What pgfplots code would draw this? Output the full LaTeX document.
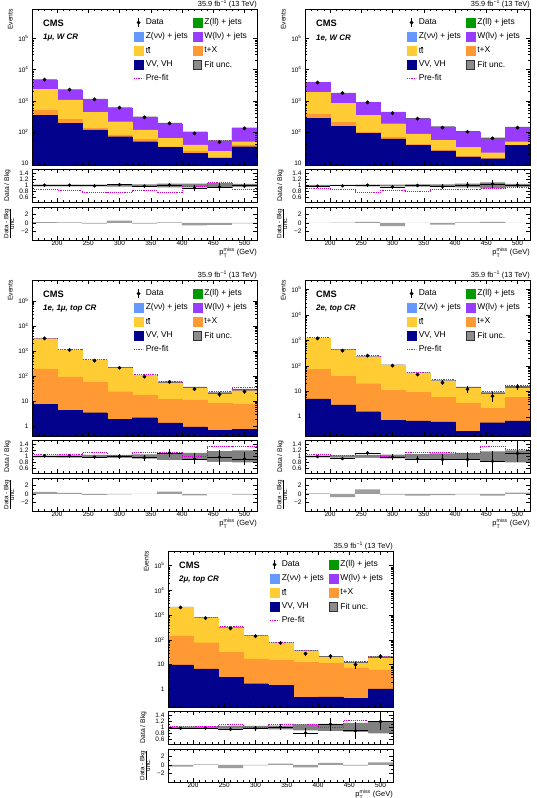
\documentclass[border=0pt]{standalone}
\usepackage{fontspec}
\setmainfont{Liberation Sans}
\usepackage{amsmath}
\usepackage{pgfplots}
\usepackage{pgfplotstable}
\pgfplotsset{compat=1.18}
\usetikzlibrary{calc}

\definecolor{cVV}{RGB}{2,2,140}
\definecolor{cTT}{RGB}{255,204,51}
\definecolor{cTX}{RGB}{255,153,51}
\definecolor{cW}{RGB}{153,60,255}
\definecolor{cZnn}{RGB}{102,153,255}
\definecolor{cZll}{RGB}{0,153,0}
\definecolor{cPre}{RGB}{210,0,210}

% lo = lower bin edge; tot, tt, tx, vv = upper edge of each stacked layer
% u = relative fit uncertainty, pre = pre-fit / post-fit, r = data / bkg, re = its error
\pgfplotstableread{
lo  tot  tt   tx   vv   data u    pre  r    re    pull
160 4700 2350 490  338  4747 0.03 0.87 1.01 0.015 0.2
200 2240 1070 256  190  2262 0.03 0.84 1.01 0.02  0.1
240 1120 428  132  117  1109 0.03 0.76 0.99 0.03  -0.2
280 590  215  81   71   608  0.04 0.76 1.03 0.04  0.55
320 300  117  59   49   294  0.04 0.82 0.98 0.05  -0.2
360 185  63   34   32   189  0.06 0.78 1.02 0.07  0.1
400 98   39   24   21   90   0.06 0.97 0.92 0.10  -0.6
440 50   24   16   14.5 47   0.08 1.09 0.95 0.14  -0.5
480 132  49   39   34   131  0.05 0.87 0.99 0.09  -0.1
520 132  49   39   34   131  0.05 0.87 0.99 0.09  -0.1
}\tabMuW

\pgfplotstableread{
lo  tot  tt   tx   vv   data u    pre  r    re    pull
160 3900 1850 370  280  3822 0.02 0.91 0.98 0.02  0.0
200 1770 820  205  152  1752 0.02 0.86 0.99 0.025 0.05
240 880  350  102  93   889  0.03 0.76 1.01 0.035 0.25
280 425  185  67   60   404  0.03 0.84 0.95 0.05  -0.8
320 267  88   41   37   267  0.04 0.81 1.00 0.06  0.0
360 145  54   27   25   139  0.04 0.87 0.96 0.08  -0.4
400 100  33   17   16   102  0.06 0.87 1.02 0.10  0.1
440 60   22   14.5 14   63   0.10 0.89 1.05 0.13  0.25
480 138  49   39   37   139  0.05 0.95 1.01 0.09  0.0
520 138  49   39   37   139  0.05 0.95 1.01 0.09  0.0
}\tabEW

\pgfplotstableread{
lo  tot  tt   tx   vv   data u    pre  r    re    pull
160 3100 3100 194  7.7  3162 0.03 1.06 1.02 0.02  0.5
200 1070 1070 92   4.4  1091 0.04 1.06 1.02 0.03  0.25
240 420  420  56   3.5  412  0.05 1.13 0.98 0.05  -0.25
280 214  214  24   1.9  214  0.05 1.04 1.00 0.07  -0.15
320 98   98   18   2.2  94   0.07 1.15 0.96 0.10  0.0
360 53   53   12   1.36 59   0.12 1.15 1.12 0.14  0.55
400 33   33   11.2 0.94 30   0.12 1.00 0.92 0.18  -0.35
440 19   19   8.2  0.69 18.6 0.18 1.33 0.98 0.25  0.0
480 26   26   7.7  0.76 24   0.20 1.33 0.92 0.22  -0.2
520 26   26   7.7  0.76 24   0.20 1.33 0.92 0.22  -0.2
}\tabEMuTop

\pgfplotstableread{
lo  tot  tt   tx   vv   data u    pre  r    re    pull
160 1200 1200 72   5.0  1200 0.03 1.06 1.00 0.03  0.1
200 425  425  39   2.9  395  0.04 1.03 0.93 0.05  -0.8
240 222  222  20   1.58 249  0.05 1.11 1.12 0.07  1.1
280 104  104  10.8 0.74 102  0.06 1.00 0.98 0.09  -0.2
320 50   50   9    0.69 45.5 0.08 1.15 0.91 0.12  -0.4
360 24.6 24.6 5.9  0.63 22   0.10 1.15 0.90 0.17  -0.3
400 13.4 13.4 3.4  0.27 12   0.12 1.09 0.90 0.25  -0.1
440 7.7  7.7  2.1  0.59 6.5  0.17 1.34 0.84 0.35  -0.4
480 13.4 13.4 5.7  0.69 14.7 0.20 1.24 1.10 0.30  0.3
520 13.4 13.4 5.7  0.69 14.7 0.20 1.24 1.10 0.30  0.3
}\tabEETop

\pgfplotstableread{
lo  tot  tt   tx   vv   data u    pre  r    re    pull
160 2100 2100 145  9.7  2040 0.03 1.02 0.97 0.03  -0.4
200 780  780  78   6.8  765  0.04 1.02 0.98 0.04  0.1
240 310  310  31   3.1  291  0.05 1.09 0.94 0.06  -0.8
280 145  145  17   1.7  141  0.05 1.01 0.97 0.08  -0.1
320 74   74   15.4 1.45 75   0.06 1.09 1.01 0.10  0.3
360 34   34   12.4 0.49 28   0.10 1.11 0.82 0.15  -0.6
400 19.6 19.6 11.3 0.50 22   0.12 1.00 1.11 0.22  0.5
440 11.3 11.3 7.4  0.44 10   0.15 1.23 0.89 0.28  -0.2
480 17.9 17.9 6.1  1.06 21.5 0.20 1.20 1.20 0.30  0.6
520 17.9 17.9 6.1  1.06 21.5 0.20 1.20 1.20 0.30  0.6
}\tabMuMuTop

\pgfplotsset{
  cmsbase/.style={
    scale only axis, width=225bp, axis on top,
    xmin=160, xmax=520,
    xtick={150,200,...,550}, minor x tick num=4,
    tick align=inside,
    major tick length=4bp, minor tick length=2bp,
    every tick/.append style={black, line width=0.4bp},
    axis line style={line width=0.6bp},
    tick label style={font=\fontsize{6.5}{7}\selectfont},
    label style={font=\fontsize{6.8}{8}\selectfont},
  },
}

\newcommand{\cmsbox}[1]{\addlegendimage{legend image code/.code={%
  \fill[#1] (0bp,-4.5bp) rectangle (9bp,4.5bp);}}}

\newcommand{\cmslegend}{%
  \addlegendimage{legend image code/.code={%
    \draw[black, line width=0.6bp] (4.5bp,-4.5bp) -- (4.5bp,4.5bp);
    \fill[black] (4.5bp,0bp) circle (1.7bp);}}
  \addlegendentry{Data}
  \cmsbox{cZll}\addlegendentry{Z(ll) + jets}
  \cmsbox{cZnn}\addlegendentry{Z(νν) + jets}
  \cmsbox{cW}\addlegendentry{W(lν) + jets}
  \cmsbox{cTT}\addlegendentry{t$\overline{\mbox{t}}$}
  \cmsbox{cTX}\addlegendentry{t+X}
  \cmsbox{cVV}\addlegendentry{VV, VH}
  \addlegendimage{legend image code/.code={%
    \draw[fill=black!45, draw=black!80, line width=0.5bp] (0.3bp,-4.2bp) rectangle (8.7bp,4.2bp);}}
  \addlegendentry{Fit unc.}
  \addlegendimage{legend image code/.code={%
    \draw[cPre, densely dotted, line width=0.8bp] (0bp,0bp) -- (9bp,0bp);}}
  \addlegendentry{Pre-fit}
}

% #1 left x, #2 top y, #3 table, #4 ymin, #5 ymax, #6 y ticks, #7 y tick labels, #8 region
\newcommand{\cmspanel}[8]{%
\begin{axis}[cmsbase, name=m, at={(#1bp,#2bp)}, anchor=north west,
  height=156bp, ymode=log, log origin=infty,
  xticklabels={},
  ymin=#4, ymax=#5, ytick={#6}, yticklabels={#7},
  ylabel={Events},
  ylabel style={at={(axis description cs:-0.085,1)}, anchor=south east, inner sep=0pt},
  every axis title shift=0pt,
  title={35.9 fb\textsuperscript{−1} (13 TeV)},
  title style={at={(axis description cs:1,1)}, anchor=south east, inner sep=0pt,
    yshift=1.2bp, font=\fontsize{7.4}{8}\selectfont},
  legend columns=2, legend cell align=left,
  legend style={at={(axis description cs:0.451,0.945)}, anchor=north west,
    draw=none, fill=none, inner sep=0pt, row sep=4.3bp,
    font=\fontsize{8.5}{9}\selectfont, nodes={inner sep=0.8bp},
    /tikz/every odd column/.append style={column sep=1.5bp},
    /tikz/every even column/.append style={column sep=4bp}}]
  \cmslegend
  \addplot[const plot mark left, cPre, densely dotted, line width=0.8bp, forget plot]
    table[x=lo, y expr=\thisrow{tot}*\thisrow{pre}] {#3};
  % upper edge of the fit uncertainty, drawn below the stack
  \addplot[ybar interval, fill=black!60, draw=none, forget plot]
    table[x=lo, y expr=\thisrow{tot}*(1+\thisrow{u})] {#3};
  \addplot[ybar interval, fill=cW, draw=cW, line width=0.1bp, forget plot] table[x=lo, y=tot] {#3};
  \addplot[ybar interval, fill=cTT, draw=cTT, line width=0.1bp, forget plot] table[x=lo, y=tt] {#3};
  \addplot[ybar interval, fill=cTX, draw=cTX, line width=0.1bp, forget plot] table[x=lo, y=tx] {#3};
  \addplot[ybar interval, fill=cVV, draw=cVV, line width=0.1bp, forget plot] table[x=lo, y=vv] {#3};
  \addplot[only marks, mark=*, mark size=1.7bp, black, forget plot, skip coords between index={9}{10},
    error bars/.cd, y dir=both, y explicit, error mark=none, error bar style={line width=0.6bp}]
    table[x expr=\thisrow{lo}+20, y=data, y error expr=sqrt(\thisrow{data})] {#3};
  \node[anchor=west, inner sep=0pt, font=\fontsize{9.3}{10}\selectfont\bfseries]
    at (rel axis cs:0.049,0.91) {CMS};
  \node[anchor=west, inner sep=0pt, font=\fontsize{8}{9}\selectfont\bfseries\itshape]
    at (rel axis cs:0.049,0.814) {#8};
\end{axis}
\begin{axis}[cmsbase, name=r, at={($(m.south west)+(0bp,-4bp)$)}, anchor=north west,
  height=33bp, ymin=0.45, ymax=1.55, xticklabels={},
  ytick={0.6,0.8,1,1.2,1.4}, yticklabels={0.6,0.8,1,1.2,1.4}, minor y tick num=1,
  ylabel={Data / Bkg},
  ylabel style={at={(axis description cs:-0.095,0.5)}, anchor=south, inner sep=0pt}]
  % fit uncertainty band around unity
  \addplot[ybar interval, fill=black!50, draw=none] table[x=lo, y expr=1+\thisrow{u}] {#3};
  \addplot[ybar interval, fill=white, draw=none] table[x=lo, y expr=1-\thisrow{u}] {#3};
  \addplot[const plot mark left, cPre, densely dotted, line width=0.9bp] table[x=lo, y=pre] {#3};
  \addplot[only marks, mark=*, mark size=1.5bp, black, skip coords between index={9}{10},
    error bars/.cd, x dir=both, x fixed=20, y dir=both, y explicit, error mark=none,
    error bar style={line width=0.6bp}]
    table[x expr=\thisrow{lo}+20, y=r, y error=re] {#3};
\end{axis}
\begin{axis}[cmsbase, at={($(r.south west)+(0bp,-5bp)$)}, anchor=north west,
  height=33bp, ymin=-4.1, ymax=3.8,
  ytick={-2,0,2}, yticklabels={−2,0,2}, minor y tick num=1,
  xticklabel={\pgfmathprintnumber[assume math mode=true]{\tick}},
  xticklabel style={inner sep=1.2bp},
  ylabel={\fontsize{6.3}{7}\selectfont$\frac{\mbox{Data - Bkg}}{\mbox{unc.}}$},
  ylabel style={at={(axis description cs:-0.102,0.5)}, anchor=center, inner sep=0pt},
  xlabel={p$_{\text{T}}^{\text{miss}}$ (GeV)},
  xlabel style={at={(axis description cs:1,0)}, anchor=north east, inner sep=0pt,
    yshift=-8bp, font=\fontsize{7.5}{8}\selectfont}]
  \addplot[ybar interval, fill=black!38, draw=none] table[x=lo, y=pull] {#3};
\end{axis}
}

\begin{document}
\begin{tikzpicture}
\path[use as bounding box] (0,0) rectangle (537bp,798bp);
\cmspanel{32}{789}{\tabMuW}{8.8}{870000}{10,100,1000,10000,100000}%
  {10,10\textsuperscript{2},10\textsuperscript{3},10\textsuperscript{4},10\textsuperscript{5}}{1μ, W CR}
\cmspanel{305}{789}{\tabEW}{8.8}{870000}{10,100,1000,10000,100000}%
  {10,10\textsuperscript{2},10\textsuperscript{3},10\textsuperscript{4},10\textsuperscript{5}}{1e, W CR}
\cmspanel{32}{518}{\tabEMuTop}{0.41}{670000}{1,10,100,1000,10000,100000}%
  {1,10,10\textsuperscript{2},10\textsuperscript{3},10\textsuperscript{4},10\textsuperscript{5}}{1e, 1μ, top CR}
\cmspanel{305}{518}{\tabEETop}{0.175}{235000}{1,10,100,1000,10000,100000}%
  {1,10,10\textsuperscript{2},10\textsuperscript{3},10\textsuperscript{4},10\textsuperscript{5}}{2e, top CR}
\cmspanel{168}{247}{\tabMuMuTop}{0.195}{390000}{1,10,100,1000,10000,100000}%
  {1,10,10\textsuperscript{2},10\textsuperscript{3},10\textsuperscript{4},10\textsuperscript{5}}{2μ, top CR}
\end{tikzpicture}
\end{document}
